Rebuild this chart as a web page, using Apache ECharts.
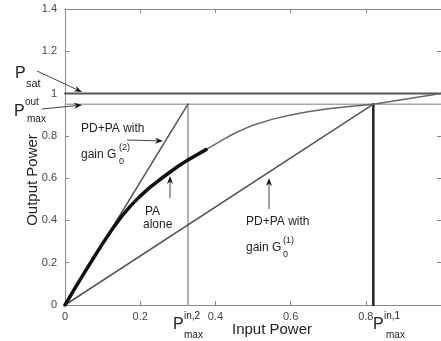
<!DOCTYPE html>
<html><head><meta charset="utf-8">
<script src="https://cdn.jsdelivr.net/npm/echarts@6/dist/echarts.min.js"></script>
<style>html,body{margin:0;padding:0;background:#fff}#c{width:441px;height:341px}</style>
</head><body><div id="c"></div>
<script>
// ---- data ----
const xTicks = [0, 0.2, 0.4, 0.6, 0.8, 1];
const yTicks = [0, 0.2, 0.4, 0.6, 0.8, 1, 1.2, 1.4];
// PA alone (bold part)
const paX = [0, 0.025, 0.05, 0.075, 0.1, 0.125, 0.15, 0.175, 0.2, 0.225, 0.25, 0.275, 0.3, 0.325, 0.35, 0.375];
const paY = [0, 0.075, 0.148, 0.22, 0.29, 0.357, 0.418, 0.47, 0.515, 0.555, 0.59, 0.623, 0.655, 0.684, 0.71, 0.735];
// continuation of the PA curve (thin)
const tailX = [0.375, 0.4, 0.425, 0.45, 0.475, 0.5, 0.55, 0.6, 0.65, 0.7, 0.75, 0.82, 1.0];
const tailY = [0.735, 0.761, 0.787, 0.811, 0.832, 0.85, 0.878, 0.899, 0.915, 0.928, 0.938, 0.95, 1.0];
// linear gains
const gain2X = [0, 0.327];
const gain2Y = [0, 0.95];
const gain1X = [0, 0.82];
const gain1Y = [0, 0.95];
// levels
const pSat = 1.0;
const pMaxOut = 0.95;
const pMaxIn2 = 0.327;
const pMaxIn1 = 0.82;

const pairs = (xs, ys) => xs.map((x, i) => [x, ys[i]]);
const FONT = '"Liberation Sans", Arial, sans-serif';
const TXT = '#222';

const chart = echarts.init(document.getElementById('c'), null, {renderer: 'canvas'});

const axisCommon = {
  type: 'value',
  axisLine: {show: true, onZero: false, lineStyle: {color: '#888', width: 1}},
  axisTick: {show: true, inside: true, length: 4, lineStyle: {color: '#888'}},
  splitLine: {show: false},
  interval: 0.2
};

function lineSeries(data, color, width) {
  return {
    type: 'line', data: data, showSymbol: false, symbol: 'none', silent: true,
    lineStyle: {color: color, width: width, cap: 'round', join: 'round'}, animation: false, z: 3
  };
}

const series = [
  lineSeries(pairs([0, 1], [pMaxOut, pMaxOut]), '#a8a8a8', 1.5),
  lineSeries(pairs([0, 1], [pSat, pSat]), '#555', 2),
  lineSeries(pairs([pMaxIn2, pMaxIn2], [0, pMaxOut]), '#9a9a9a', 1.5),
  lineSeries(pairs([pMaxIn1, pMaxIn1], [0, pMaxOut]), '#222', 2.5),
  lineSeries(pairs(gain2X, gain2Y), '#555', 1.5),
  lineSeries(pairs(gain1X, gain1Y), '#555', 1.5),
  lineSeries(pairs(tailX, tailY), '#666', 1.5),
  Object.assign(lineSeries(pairs(paX, paY), '#111', 3.5), {z: 5})
];

// annotation helpers (pixel layout)
function txt(text, x, y, size, align) {
  return {
    type: 'text', x: x, y: y, silent: true, z: 10,
    style: {text: text, fill: TXT, font: size + 'px ' + FONT, textVerticalAlign: 'middle', textAlign: align || 'left'}
  };
}
function arrow(x1, y1, x2, y2) {
  const dx = x2 - x1, dy = y2 - y1, L = Math.hypot(dx, dy);
  const ux = dx / L, uy = dy / L, hl = 8, hw = 3;
  const bx = x2 - ux * hl, by = y2 - uy * hl;
  return [
    {type: 'line', silent: true, z: 10, shape: {x1: x1, y1: y1, x2: bx + ux * 2, y2: by + uy * 2},
     style: {stroke: '#444', lineWidth: 1}},
    {type: 'polygon', silent: true, z: 10,
     shape: {points: [[x2, y2], [bx - uy * hw, by + ux * hw], [bx + ux * 2.5, by + uy * 2.5], [bx + uy * hw, by - ux * hw]]},
     style: {fill: '#111'}}
  ];
}

const graphic = [].concat(
  [txt('P', 15, 74, 16), txt('sat', 26, 84, 11)],
  arrow(37, 71, 82, 92),
  [txt('P', 14, 112, 16), txt('out', 25, 102, 10), txt('max', 27, 119, 10)],
  arrow(42, 109, 82, 105),
  [txt('PD+PA with', 81, 129, 12), txt('gain G', 81, 155, 12), txt('(2)', 119, 148, 9), txt('0', 119, 162, 9)],
  arrow(127, 140, 163, 141),
  [txt('PA', 145, 212, 12), txt('alone', 143, 225, 12)],
  arrow(170, 198, 170, 176),
  [txt('PD+PA with', 246, 222, 12), txt('gain G', 246, 248, 12), txt('(1)', 283, 241, 9), txt('0', 283, 255, 9)],
  arrow(269, 209, 269, 178),
  [txt('P', 173, 325, 16), txt('in,2', 184, 316, 10), txt('max', 184, 335, 10)],
  [txt('P', 373, 325, 16), txt('in,1', 384, 316, 10), txt('max', 386, 335, 10)],
  [txt('Input Power', 272, 330, 15, 'center')],
  [{type: 'text', x: 33, y: 180, rotation: Math.PI / 2, silent: true, z: 10,
    style: {text: 'Output Power', fill: TXT, font: '15px ' + FONT, textVerticalAlign: 'middle', textAlign: 'center'}}]
);

chart.setOption({
  animation: false,
  backgroundColor: '#fff',
  grid: {left: 65, top: 9, right: -2, bottom: 36, containLabel: false},
  xAxis: [
    Object.assign({}, axisCommon, {min: xTicks[0], max: xTicks[xTicks.length - 1], position: 'bottom',
      axisLabel: {show: true, color: '#444', fontSize: 11, fontFamily: FONT, margin: 6, showMaxLabel: false}}),
    Object.assign({}, axisCommon, {min: xTicks[0], max: xTicks[xTicks.length - 1], position: 'top',
      axisLabel: {show: false}})
  ],
  yAxis: [
    Object.assign({}, axisCommon, {min: yTicks[0], max: yTicks[yTicks.length - 1], position: 'left',
      axisLabel: {show: true, color: '#444', fontSize: 11, fontFamily: FONT, margin: 8}}),
    Object.assign({}, axisCommon, {min: yTicks[0], max: yTicks[yTicks.length - 1], position: 'right',
      axisLabel: {show: false}})
  ],
  series: series,
  graphic: graphic
});
</script></body></html>
